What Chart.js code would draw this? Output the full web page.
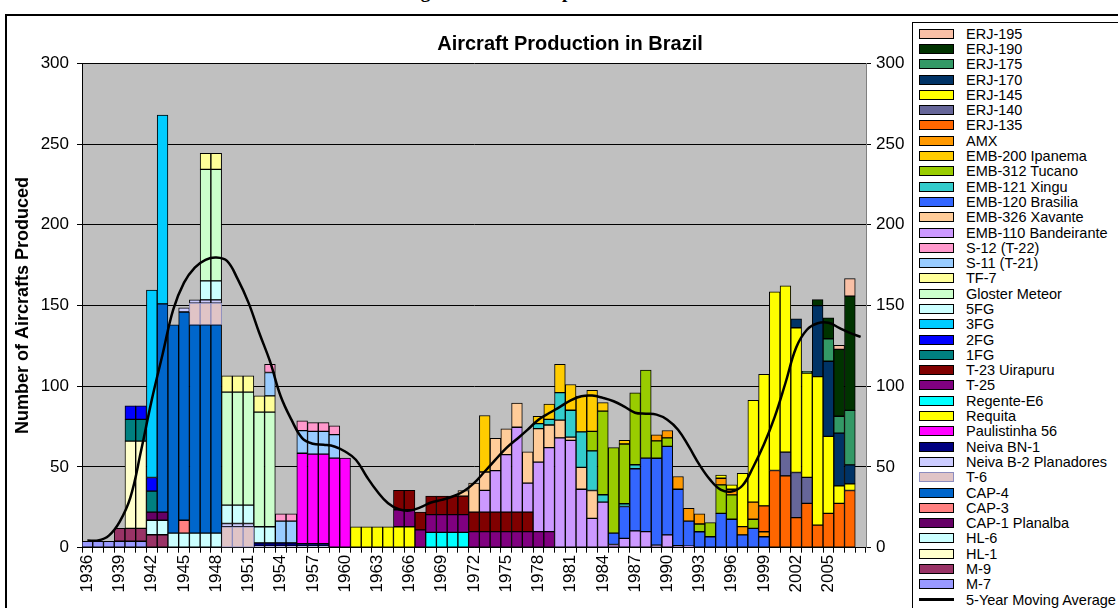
<!DOCTYPE html>
<html>
<head>
<meta charset="utf-8">
<script src="https://cdn.jsdelivr.net/npm/chart.js@4.4.0/dist/chart.umd.min.js"></script>
<style>
  html,body{margin:0;padding:0;width:1118px;height:608px;overflow:hidden;background:#fff;font-family:Arial,"Liberation Sans",sans-serif}
  #caption{position:absolute;left:0;top:-18px;width:1130px;text-align:center;font:bold 19px "Liberation Serif","Times New Roman",serif;line-height:19px;white-space:nowrap}
  #frame{position:absolute;left:5px;top:14px;width:1300px;height:700px;border:2px solid #000;box-sizing:border-box}
  #wrap{position:absolute;left:0;top:0;width:1140px;height:608px}
  #legend{position:absolute;left:912px;top:22px;width:240px;height:640px;border:1px solid #000;background:#fff;box-sizing:border-box;padding-top:3px;z-index:3}
  .li{height:15.3px;display:flex;align-items:center;white-space:nowrap;font-size:14.5px;color:#000}
  .sw{width:33px;height:8px;border:1px solid #000;margin-left:6px;margin-right:12px;flex:none}
  .ln{width:35px;height:3px;background:#000;margin-left:6px;margin-right:12px;flex:none}
</style>
</head>
<body>
<div id="caption">Figure 10: Aircraft production in Brazil</div>
<div id="frame"></div>
<div id="wrap"><canvas id="c" width="1140" height="608"></canvas></div>
<div id="legend"></div>
<script>
// categories: one per year, last slot is the unlabeled end of the moving average
const years=[];for(let y=1936;y<=2007;y++)years.push(String(y));years.push('');

// production per model: first year + yearly counts (null = none that year)
const M7    ={start:1936,values:[4,4,4,4,4,4]};
const M9    ={start:1939,values:[8,8,8,8,8]};
const HL1   ={start:1940,values:[54,54]};
const HL6   ={start:1942,values:[9,9,9,9,9,9,9]};
const CAP1  ={start:1942,values:[5,5]};
const CAP3  ={start:1945,values:[8]};
const CAP4  ={start:1943,values:[129,129,129,129,129,129]};
const T6    ={start:1946,values:[13.5,13.5,13.5,13,13,13]};
const NB2   ={start:1945,values:[2.5,2,2,2,2,2,2,1,1,1,1,1,1,1]};
const NBN1  ={start:1952,values:[2,2,2,2,1.5,1.5,1.5]};
const PAUL  ={start:1956,values:[56,55.5,55.5,55.5,55.5]};
const REQ   ={start:1961,values:[13,13,13,13,13,13]};
const REG   ={start:1968,values:[9.5,9.5,9.5,9.5]};
const T25   ={start:1965,values:[10.5,10.5,11,11,11,11,11,10,10,10,10,10,10,10,10]};
const T23   ={start:1965,values:[12,12,11,11.4,11.4,11.4,11.4,12,12,12,12,12,12]};
const FG1   ={start:1940,values:[13.5,13.5,13]};
const FG2   ={start:1940,values:[8.3,8.3,8.5]};
const FG3   ={start:1942,values:[116,117]};
const FG5   ={start:1947,values:[11.8,11.8,11.4,11.4,11.4,10,10]};
const GLOS  ={start:1947,values:[69,69,70,70,70,71,71]};
const TF7   ={start:1947,values:[10,10,10,10,10,10,10]};
const S11   ={start:1953,values:[14.5,13.5,13.5,14,14,14,14.5]};
const S12   ={start:1953,values:[5,4.5,4.5,6,5.5,5.5,5.5]};
const E110  ={start:1973,values:[13.5,25.7,35.6,52.6,18,43,52,68,66.5,36.2,18.2,28.2,2,5.8,10.4,10,1.6,7.9,1.2,1]};
const E326  ={start:1971,values:[3.5,18,11.4,20,16,15,19.3,20.7,14,11,2,13.5,17.2]};
const E120  ={start:1985,values:[7,19.7,38.5,45.5,53.8,54.9,35,15.5,9.9,6.8,21.3,17.6,7.9,12,6.8]};
const E121  ={start:1978,values:[3.1,3.5,17,16.6,22,24.6,4.6,null,1.7,2.5]};
const TUC   ={start:1983,values:[12,51.8,53,37,44.5,54.5,10.8,5.2,null,null,4.8,8.7,17.6,15.1,null,5.6]};
const E200  ={start:1973,values:[35,null,null,null,null,4.6,9.5,17.6,16,22.2,25.5,5.2,null,2.3]};
const AMX   ={start:1989,values:[3.7,4.6,7.9,7.9,6.2,null,4.1,3.5,5.2,10.6,3.1]};
const ERJ135={start:1999,values:[16,47.8,44.5,18.6,27.5,14,21.3,27.5,35.4]};
const ERJ140={start:2001,values:[14.7,28,16.1]};
const ERJ145={start:1995,values:[2,2.7,33,63,81.4,110.6,103,89.6,64.6,92,47.6,10.8,4.1]};
const ERJ170={start:2002,values:[5.6,null,43.9,46.6,32.7,11.8]};
const ERJ175={start:2003,values:[1,null,13.9,10.4,33.7]};
const ERJ190={start:2004,values:[3.7,13,41.4,70.8]};
const ERJ195={start:2006,values:[2.5,10.8]};

// 5-year moving average, one value per category
const movingAvg=[4.5,4.5,7.5,16,31,60,91.7,119.7,147.6,164.2,173.5,178.3,179.7,177.6,166.3,151.8,133.1,115.5,93.8,79.3,
  67.9,64.4,63.8,62.7,59.6,54.5,44.1,34.8,27.5,23.8,23,25,28,29.6,31.7,34.8,40,47.2,54.5,61.7,
  67.3,73.1,79.3,83.4,87.2,91.3,93.8,94.2,92.8,90.7,87.4,83.6,83,82.4,79.3,73.1,62.7,51.3,42,35.8,
  34.8,38.5,50,64,81,102,124,135,139,139.3,136.2,133,130.6];

// stacking order, bottom to top
const series=[
  ['M-7',M7],['M-9',M9],['HL-1',HL1],['HL-6',HL6],['CAP-1 Planalba',CAP1],['CAP-3',CAP3],['CAP-4',CAP4],['T-6',T6],
  ['Neiva B-2 Planadores',NB2],['Neiva BN-1',NBN1],['Paulistinha 56',PAUL],['Requita',REQ],['Regente-E6',REG],
  ['T-25',T25],['T-23 Uirapuru',T23],['1FG',FG1],['2FG',FG2],['3FG',FG3],['5FG',FG5],['Gloster Meteor',GLOS],['TF-7',TF7],
  ['S-11 (T-21)',S11],['S-12 (T-22)',S12],['EMB-110 Bandeirante',E110],['EMB-326 Xavante',E326],['EMB-120 Brasilia',E120],
  ['EMB-121 Xingu',E121],['EMB-312 Tucano',TUC],['EMB-200 Ipanema',E200],['AMX',AMX],['ERJ-135',ERJ135],['ERJ-140',ERJ140],
  ['ERJ-145',ERJ145],['ERJ-170',ERJ170],['ERJ-175',ERJ175],['ERJ-190',ERJ190],['ERJ-195',ERJ195]
];

const COLORS={
  'M-7':'#9999FF','M-9':'#993366','HL-1':'#FFFFCC','HL-6':'#CCFFFF','CAP-1 Planalba':'#660066','CAP-3':'#FF8080',
  'CAP-4':'#0066CC','T-6':'#E0C4C6','Neiva B-2 Planadores':'#CCCCFF','Neiva BN-1':'#000080','Paulistinha 56':'#FF00FF',
  'Requita':'#FFFF00','Regente-E6':'#00FFFF','T-25':'#800080','T-23 Uirapuru':'#800000','1FG':'#008080','2FG':'#0000FF',
  '3FG':'#00CCFF','5FG':'#CCFFFF','Gloster Meteor':'#CCFFCC','TF-7':'#FFFF99','S-11 (T-21)':'#99CCFF','S-12 (T-22)':'#FF99CC',
  'EMB-110 Bandeirante':'#CC99FF','EMB-326 Xavante':'#FFCC99','EMB-120 Brasilia':'#3366FF','EMB-121 Xingu':'#33CCCC',
  'EMB-312 Tucano':'#99CC00','EMB-200 Ipanema':'#FFCC00','AMX':'#FF9900','ERJ-135':'#FF6600','ERJ-140':'#666699',
  'ERJ-145':'#FFFF00','ERJ-170':'#003366','ERJ-175':'#339966','ERJ-190':'#003300','ERJ-195':'#F9C0A6'
};

function expand(s){
  const out=years.map(()=>null);
  s.values.forEach((v,i)=>{if(v!=null)out[s.start-1936+i]=v;});
  return out;
}

Chart.defaults.font.family='Arial, "Liberation Sans", sans-serif';
Chart.defaults.color='#000';

const plotBg={id:'plotBg',beforeDraw(c){const a=c.chartArea,x=c.ctx;x.save();x.fillStyle='#C0C0C0';x.fillRect(a.left,a.top,a.right-a.left,a.bottom-a.top);x.restore();}};

const datasets=series.map(([name,s])=>({
  type:'bar',label:name,data:expand(s),backgroundColor:COLORS[name],
  borderColor:name==='T-6'?'#8C8CBE':'#000',borderWidth:1,borderSkipped:false,
  barPercentage:1,categoryPercentage:1,order:1,stack:'planes'
}));
datasets.push({type:'line',label:'5-Year Moving Average',data:movingAvg,borderColor:'#000',borderWidth:2.5,
  pointRadius:0,tension:0.4,fill:false,order:0,stack:'ma'});

const tickFont={size:17};
new Chart(document.getElementById('c'),{
  data:{labels:years,datasets},
  plugins:[plotBg],
  options:{
    responsive:false,animation:false,
    layout:{padding:0},
    plugins:{
      legend:{display:false},tooltip:{enabled:false},
      title:{display:true,text:'Aircraft Production in Brazil',font:{size:20,weight:'bold'},color:'#000',padding:{top:32,bottom:7.3}}
    },
    scales:{
      x:{stacked:true,offset:true,
        grid:{display:true,drawOnChartArea:false,tickLength:5,color:'#000',offset:true},
        border:{color:'#000'},
        ticks:{autoSkip:false,minRotation:90,maxRotation:90,padding:2,font:tickFont,
          callback:(v,i)=>i%3===0?years[i]:''},
        afterFit(s){s.height=60.3;}},
      y:{stacked:true,min:0,max:300,
        ticks:{stepSize:50,padding:8,font:tickFont},
        grid:{color:'#000',tickLength:5},border:{color:'#000'},
        title:{display:true,text:'Number of Aircrafts Produced',font:{size:18,weight:'bold'},padding:{top:12,bottom:0}},
        afterFit(s){s.width=82;}},
      y2:{position:'right',min:0,max:300,
        ticks:{stepSize:50,padding:5,font:tickFont},
        grid:{drawOnChartArea:false,color:'#000',tickLength:5},border:{color:'#808080'},
        afterFit(s){s.width=274;}}
    }
  }
});

// legend box, top entry is the top of the stack
const lg=document.getElementById('legend');
series.slice().reverse().forEach(([name])=>{
  const d=document.createElement('div');d.className='li';
  d.innerHTML='<span class="sw" style="background:'+COLORS[name]+(name==='T-6'?';border-color:#8C8CBE':'')+'"></span>'+name;
  lg.appendChild(d);
});
const d=document.createElement('div');d.className='li';
d.innerHTML='<span class="ln"></span>5-Year Moving Average';lg.appendChild(d);
</script>
</body>
</html>
